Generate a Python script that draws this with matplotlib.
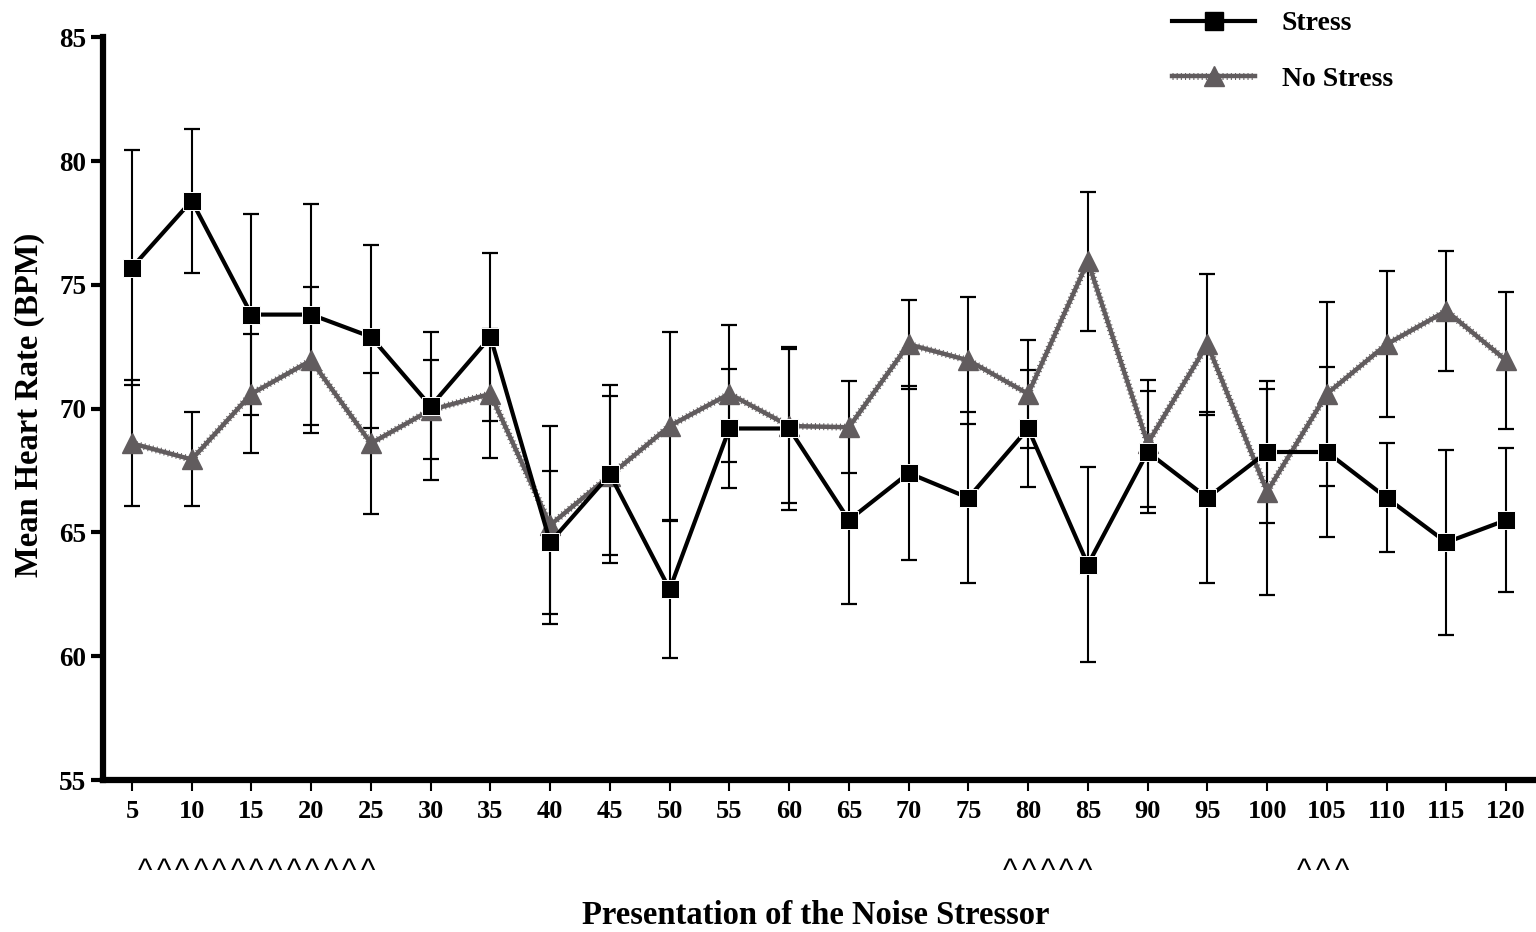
import numpy as np
import matplotlib.pyplot as plt
import matplotlib.transforms as mtransforms
from matplotlib.lines import Line2D
from matplotlib.legend_handler import HandlerTuple

plt.rcParams['font.family'] = ['Liberation Serif', 'DejaVu Serif']
plt.rcParams['font.weight'] = 'bold'

# presentation number of the noise stressor
presentation = [5, 10, 15, 20, 25, 30, 35, 40, 45, 50, 55, 60,
                65, 70, 75, 80, 85, 90, 95, 100, 105, 110, 115, 120]

stress = [75.7, 78.4, 73.8, 73.8, 72.9, 70.1, 72.9, 64.6, 67.35, 62.7, 69.2, 69.2,
          65.5, 67.4, 66.4, 69.2, 63.7, 68.25, 66.4, 68.25, 68.25, 66.4, 64.6, 65.5]
stress_err = [4.75, 2.9, 4.07, 4.45, 3.7, 3.0, 3.4, 2.9, 3.6, 2.77, 2.4, 3.3,
              3.4, 3.5, 3.46, 2.38, 3.95, 2.48, 3.46, 2.86, 3.43, 2.2, 3.75, 2.9]

no_stress = [68.6, 67.95, 70.6, 71.95, 68.6, 69.95, 70.6, 65.3, 67.3, 69.3, 70.6, 69.3,
             69.25, 72.6, 71.95, 70.6, 75.95, 68.6, 72.6, 66.65, 70.6, 72.6, 73.95, 71.95]
no_stress_err = [2.55, 1.9, 2.4, 2.95, 2.85, 2.0, 2.6, 4.0, 3.2, 3.8, 2.77, 3.1,
                 1.85, 1.8, 2.56, 2.18, 2.8, 2.57, 2.85, 4.16, 3.72, 2.95, 2.42, 2.76]

# significance carets under the x axis: (first, last, how many)
marks = [(6.1, 24.75, 13), (78.5, 84.75, 5), (103.05, 106.3, 3)]

grey = '#615c5e'

fig = plt.figure(figsize=(15.36, 9.32), dpi=100)
ax = fig.add_axes([0.067, 0.163, 0.933, 0.797])

# error bars first, markers sit on top
ax.errorbar(presentation, no_stress, yerr=no_stress_err, fmt='none', ecolor='black',
            elinewidth=1.5, capsize=5.5, capthick=1.6, zorder=1)
ax.errorbar(presentation, stress, yerr=stress_err, fmt='none', ecolor='black',
            elinewidth=1.5, capsize=5.5, capthick=1.6, zorder=1)

# no stress: grey line with a serrated dotted edge
ax.plot(presentation, no_stress, color=grey, lw=5.0, ls=(0, (0.15, 0.45)), zorder=2)
ax.plot(presentation, no_stress, color=grey, lw=3.2, marker='^', ms=14,
        mec=grey, zorder=3)
ax.plot(presentation, stress, color='black', lw=3, marker='s', ms=13,
        mec='white', mew=0.7, zorder=4)

ax.set_xlim(2.57, 122.5)
ax.set_ylim(55, 85)
ax.set_xticks(presentation)
ax.set_yticks([55, 60, 65, 70, 75, 80, 85])
ax.tick_params(axis='y', length=9, width=3, labelsize=19.5, pad=3)
ax.tick_params(axis='x', length=8, width=1.5, labelsize=19, pad=6)
for s in ['top', 'right']:
    ax.spines[s].set_visible(False)
for s in ['left', 'bottom']:
    ax.spines[s].set_linewidth(4.5)

trans = mtransforms.blended_transform_factory(ax.transData, fig.transFigure)
for first, last, n in marks:
    for xc in np.linspace(first, last, n):
        ax.text(xc, 1 - 880 / 932, '^', transform=trans, ha='center', va='baseline',
                fontsize=22, family='Liberation Sans', fontweight='normal')

fig.text(816 / 1536, 1 - 916 / 932, 'Presentation of the Noise Stressor',
         ha='center', va='center', fontsize=23.5, fontweight='bold')
fig.text(30 / 1536, 1 - 405 / 932, 'Mean Heart Rate (BPM)', rotation=90,
         ha='center', va='center', fontsize=23.5, fontweight='bold')

h_stress = Line2D([], [], color='black', lw=3, marker='s', ms=13)
h_ns_a = Line2D([], [], color=grey, lw=5.0, ls=(0, (0.15, 0.45)))
h_ns_b = Line2D([], [], color=grey, lw=3.2, marker='^', ms=14)
fig.legend([h_stress, (h_ns_a, h_ns_b)], ['Stress', 'No Stress'],
           handler_map={tuple: HandlerTuple(ndivide=1)},
           loc='upper left', bbox_to_anchor=(1172 / 1536, 1 - 11 / 932),
           frameon=False, fontsize=20, handlelength=3.0, handletextpad=0.95,
           labelspacing=1.07, borderpad=0, borderaxespad=0)

fig.savefig('out.png', dpi=100)
